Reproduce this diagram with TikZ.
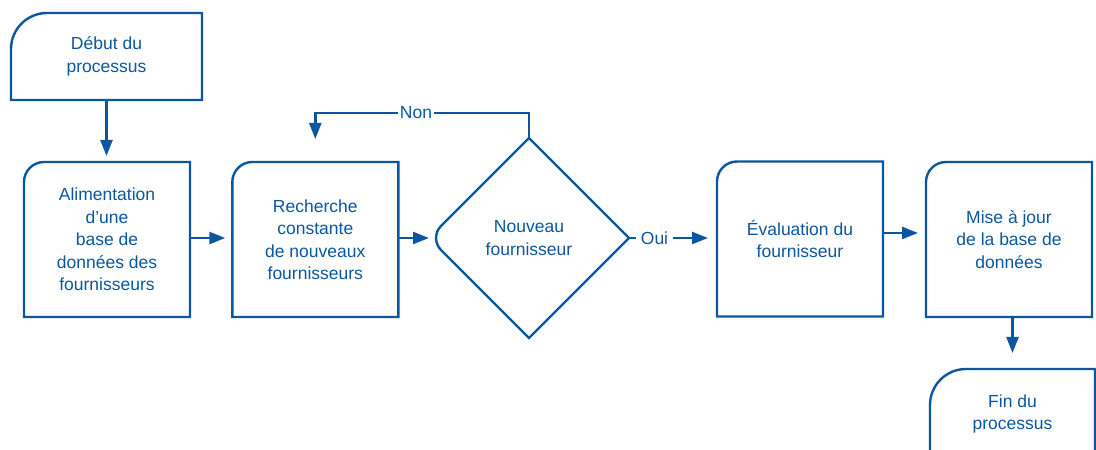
\documentclass[tikz,border=0pt]{standalone}
\usepackage{fontspec}
\setmainfont{Liberation Sans}
\usetikzlibrary{arrows.meta,shapes.geometric,calc}
\definecolor{flowblue}{HTML}{0B579F}

% Outline of a box whose top-left corner is rounded: #1 node name, #2 radius (pt)
\newcommand\tlframe[2]{%
  \draw[conn] (#1.south west) -- ([yshift=-#2pt]#1.north west)
    arc[start angle=180,end angle=90,radius=#2pt]
    -- (#1.north east) -- (#1.south east) -- cycle;}

\begin{document}
\begin{tikzpicture}[x=1pt,y=1pt,
  every node/.style={font=\fontsize{17.5}{22.5}\selectfont, text=flowblue, align=center},
  box/.style={rectangle, inner sep=0pt, outer sep=0pt, minimum width=166pt, minimum height=155pt},
  conn/.style={draw=flowblue, line width=2.4pt},
  flow/.style={conn, -{Triangle[length=16pt,width=12pt]}},
  lbl/.style={inner ysep=1pt}
]
\useasboundingbox (0,0) rectangle (1096,450);
\clip (0,0) rectangle (1096,450);

% terminals and steps
\node[box, minimum width=191pt, minimum height=87pt] (start) at (106.5,393.5) {Début du\\processus};
\node[box] (alim) at (107,210.5) {Alimentation\\d’une\\base de\\données des\\fournisseurs};
\node[box] (rech) at (315.3,210.5) {Recherche\\constante\\de nouveaux\\fournisseurs};
\node[diamond, aspect=1, inner sep=0pt, outer sep=0pt, minimum width=200pt, minimum height=200pt]
  (dia) at (529,212) {Nouveau\\fournisseur};
\node[box] (eval) at (800,211) {Évaluation du\\fournisseur};
\node[box] (mise) at (1009,210.5) {Mise à jour\\de la base de\\données};
\node[box, minimum width=165pt, minimum height=90pt] (fin) at (1012.5,36) {Fin du\\processus};

% outlines
\tlframe{start}{36}
\tlframe{alim}{20}
\tlframe{rech}{20}
\tlframe{eval}{20}
\tlframe{mise}{20}
\tlframe{fin}{36}
\draw[conn] (dia.north) -- (dia.east) -- (dia.south)
  -- ($(dia.west)+(12.02,-12.02)$) arc[start angle=225,end angle=135,radius=17pt] -- cycle;

% branch labels
\node[lbl, inner xsep=1.5pt] (non) at (416,337) {Non};
\node[lbl, inner xsep=5pt] (oui) at (654.5,212) {Oui};

% connectors
\draw[flow, shorten >=6pt] (start.south) -- (start.south |- alim.north);
\draw[flow, shorten >=7pt] ([yshift=1.5pt]alim.east) -- ([yshift=1.5pt]alim.east -| rech.west);
\draw[flow] ([yshift=1.5pt]rech.east) -- (dia.west);
\draw[conn] (dia.north) |- (non.east);
\draw[flow, shorten >=23pt] (non.west) -| (rech.north);
\draw[conn] (dia.east) -- (oui.west);
\draw[flow, shorten >=9pt] (oui.east) -- (oui.east -| eval.west);
\draw[flow, shorten >=8pt] ([yshift=6pt]eval.east) -- ([yshift=6pt]eval.east -| mise.west);
\draw[flow, shorten >=16pt] (fin.north |- mise.south) -- (fin.north);
\end{tikzpicture}
\end{document}
